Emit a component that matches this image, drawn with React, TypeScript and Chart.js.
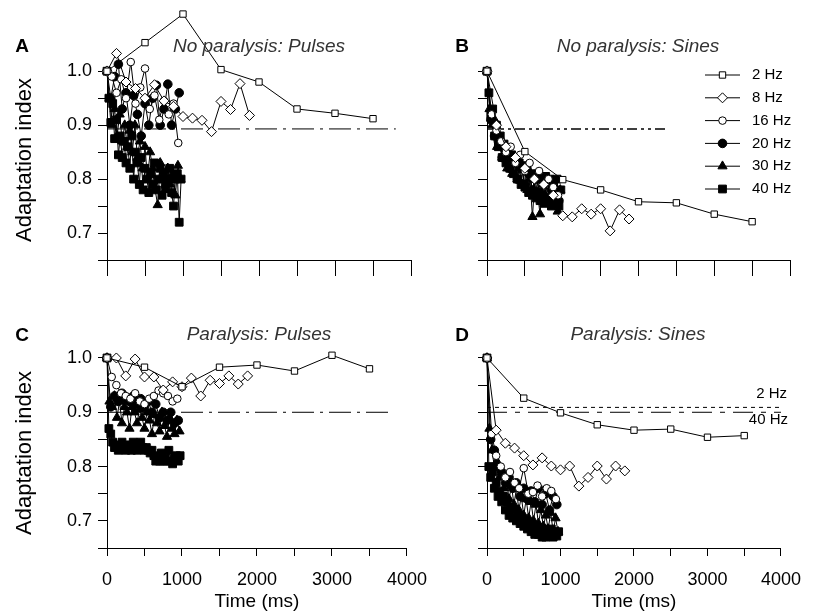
import React, { useEffect, useRef } from 'react';
import { Chart, registerables } from 'chart.js';

Chart.register(...registerables);

const FONT = '"Liberation Sans", Arial, Helvetica, sans-serif';

// ---- stimulus times (ms) ----
const T2 = [0, 500, 1000, 1500, 2000, 2500, 3000, 3500];
const T8 = [0, 125, 250, 375, 500, 625, 750, 875, 1000, 1125, 1250, 1375, 1500, 1625, 1750, 1875];
const T16 = [0, 62.5, 125, 187.5, 250, 312.5, 375, 437.5, 500, 562.5, 625, 687.5, 750, 812.5, 875, 937.5];
const T20 = [0, 50, 100, 150, 200, 250, 300, 350, 400, 450, 500, 550, 600, 650, 700, 750, 800, 850, 900, 950];
const T30 = [0, 33, 67, 100, 133, 167, 200, 233, 267, 300, 333, 367, 400, 433, 467, 500, 533, 567, 600, 633, 667, 700, 733, 767, 800, 833, 867, 900, 933, 967];
const T40 = [0, 25, 50, 75, 100, 125, 150, 175, 200, 225, 250, 275, 300, 325, 350, 375, 400, 425, 450, 475, 500, 525, 550, 575, 600, 625, 650, 675, 700, 725, 750, 775, 800, 825, 850, 875, 900, 925, 950, 975];

const FREQ_LABELS = ['2 Hz', '8 Hz', '16 Hz', '20 Hz', '30 Hz', '40 Hz'];

// ---- A: No paralysis, pulses ----
const A2 = [1.0, 1.053, 1.106, 1.003, 0.98, 0.93, 0.922, 0.912];
const A8 = [1.0, 1.033, 0.98, 0.968, 0.95, 0.975, 0.945, 0.935, 0.916, 0.913, 0.909, 0.888, 0.944, 0.929, 0.977, 0.918];
const A16 = [1.0, 0.99, 0.96, 0.985, 0.95, 1.017, 0.94, 0.97, 1.005, 0.93, 0.955, 0.91, 0.945, 0.92, 0.94, 0.867];
const A20 = [1.0, 0.95, 0.99, 1.013, 0.93, 0.96, 0.9, 0.955, 0.92, 0.88, 0.94, 0.9, 0.95, 0.974, 0.9, 0.93, 0.976, 0.9, 0.93, 0.96];
const A30 = [1.0, 0.95, 0.9, 0.93, 0.88, 0.92, 0.87, 0.9, 0.86, 0.89, 0.85, 0.9, 0.84, 0.87, 0.82, 0.86, 0.8, 0.85, 0.82, 0.78, 0.752, 0.83, 0.8, 0.78, 0.82, 0.79, 0.81, 0.77, 0.825, 0.8];
const A40 = [1.0, 0.95, 0.905, 0.94, 0.875, 0.91, 0.845, 0.88, 0.84, 0.87, 0.83, 0.86, 0.82, 0.88, 0.8, 0.85, 0.83, 0.79, 0.84, 0.78, 0.82, 0.8, 0.775, 0.81, 0.79, 0.83, 0.78, 0.8, 0.82, 0.77, 0.81, 0.79, 0.8, 0.82, 0.775, 0.75, 0.8, 0.81, 0.72, 0.8];
const A_REF = 0.893;
const A_REF_T = [0, 3800];

// ---- B: No paralysis, sines ----
const B2 = [1.0, 0.851, 0.799, 0.78, 0.758, 0.756, 0.735, 0.721];
const B8 = [1.0, 0.9, 0.86, 0.84, 0.82, 0.8, 0.79, 0.77, 0.732, 0.73, 0.745, 0.735, 0.745, 0.704, 0.743, 0.726];
const B16 = [1.0, 0.92, 0.89, 0.87, 0.85, 0.86, 0.83, 0.845, 0.815, 0.83, 0.8, 0.815, 0.79, 0.8, 0.785, 0.77];
const B20 = [1.0, 0.91, 0.88, 0.87, 0.84, 0.85, 0.82, 0.835, 0.8, 0.82, 0.79, 0.81, 0.78, 0.8, 0.775, 0.79, 0.765, 0.78, 0.775, 0.76];
const B30 = [1.0, 0.93, 0.9, 0.91, 0.86, 0.88, 0.84, 0.86, 0.82, 0.845, 0.81, 0.835, 0.8, 0.825, 0.79, 0.82, 0.78, 0.8, 0.73, 0.8, 0.775, 0.735, 0.79, 0.77, 0.8, 0.76, 0.79, 0.765, 0.74, 0.78];
const B40 = [1.0, 0.96, 0.92, 0.93, 0.88, 0.9, 0.86, 0.88, 0.84, 0.865, 0.83, 0.855, 0.82, 0.845, 0.81, 0.84, 0.8, 0.83, 0.79, 0.825, 0.785, 0.82, 0.775, 0.81, 0.77, 0.805, 0.765, 0.81, 0.76, 0.8, 0.755, 0.805, 0.76, 0.8, 0.75, 0.795, 0.755, 0.8, 0.75, 0.78];
const B_REF = 0.893;
const B_REF_T = [0, 2350];

// ---- C: Paralysis, pulses ----
const C2 = [1.0, 0.983, 0.947, 0.983, 0.987, 0.976, 1.005, 0.98];
const C8 = [1.0, 1.0, 0.967, 0.998, 0.965, 0.965, 0.941, 0.956, 0.947, 0.963, 0.93, 0.959, 0.953, 0.967, 0.952, 0.967];
const C16 = [1.0, 0.965, 0.95, 0.935, 0.93, 0.925, 0.935, 0.92, 0.915, 0.925, 0.93, 0.94, 0.935, 0.93, 0.92, 0.925];
const C20 = [1.0, 0.91, 0.93, 0.92, 0.935, 0.925, 0.92, 0.93, 0.915, 0.925, 0.91, 0.92, 0.9, 0.915, 0.89, 0.9, 0.885, 0.9, 0.88, 0.885];
const C30 = [1.0, 0.92, 0.91, 0.93, 0.89, 0.92, 0.88, 0.91, 0.9, 0.87, 0.91, 0.9, 0.88, 0.905, 0.89, 0.87, 0.9, 0.885, 0.86, 0.895, 0.88, 0.865, 0.9, 0.875, 0.855, 0.89, 0.87, 0.86, 0.885, 0.865];
const C40 = [1.0, 0.87, 0.86, 0.845, 0.835, 0.84, 0.83, 0.835, 0.845, 0.835, 0.83, 0.84, 0.835, 0.83, 0.845, 0.835, 0.83, 0.84, 0.845, 0.835, 0.83, 0.835, 0.83, 0.825, 0.83, 0.82, 0.81, 0.815, 0.81, 0.825, 0.81, 0.815, 0.81, 0.83, 0.81, 0.805, 0.815, 0.82, 0.81, 0.82];
const C_REF = 0.9;
const C_REF_T = [0, 3800];

// ---- D: Paralysis, sines ----
const D2 = [1.0, 0.926, 0.899, 0.877, 0.867, 0.869, 0.854, 0.857];
const D8 = [1.0, 0.867, 0.843, 0.834, 0.82, 0.803, 0.816, 0.801, 0.794, 0.801, 0.764, 0.78, 0.801, 0.777, 0.801, 0.792];
const D16 = [1.0, 0.86, 0.82, 0.8, 0.78, 0.79, 0.77, 0.76, 0.797, 0.75, 0.753, 0.765, 0.745, 0.76, 0.755, 0.74];
const D20 = [1.0, 0.85, 0.83, 0.8, 0.79, 0.77, 0.78, 0.76, 0.77, 0.745, 0.76, 0.74, 0.755, 0.735, 0.76, 0.73, 0.75, 0.72, 0.745, 0.73];
const D30 = [1.0, 0.87, 0.83, 0.8, 0.81, 0.78, 0.79, 0.76, 0.775, 0.74, 0.765, 0.73, 0.76, 0.72, 0.745, 0.71, 0.74, 0.705, 0.735, 0.7, 0.73, 0.695, 0.72, 0.69, 0.71, 0.685, 0.715, 0.68, 0.705, 0.68];
const D40 = [1.0, 0.8, 0.78, 0.79, 0.76, 0.77, 0.745, 0.755, 0.735, 0.745, 0.72, 0.735, 0.71, 0.725, 0.705, 0.72, 0.7, 0.71, 0.695, 0.705, 0.69, 0.7, 0.685, 0.695, 0.68, 0.69, 0.675, 0.69, 0.675, 0.685, 0.67, 0.685, 0.67, 0.68, 0.672, 0.685, 0.67, 0.68, 0.672, 0.68];
const D_REF_2HZ = 0.909;
const D_REF_40HZ = 0.9;
const D_REF_T = [0, 4000];

// ---- marker styles per frequency ----
const MARKERS = [
  { style: 'rect', r: 4.5, fill: '#fff' },
  { style: 'rectRot', r: 5, fill: '#fff' },
  { style: 'circle', r: 3.8, fill: '#fff' },
  { style: 'circle', r: 4.3, fill: '#000' },
  { style: 'triangle', r: 5.3, fill: '#000' },
  { style: 'rect', r: 5.5, fill: '#000' },
];

const TIMES = [T2, T8, T16, T20, T30, T40];

function pts(times: number[], vals: number[]) {
  return times.map((t, i) => ({ x: t, y: vals[i] }));
}

function seriesDatasets(values: number[][]) {
  return values.map((vals, i) => ({
    label: FREQ_LABELS[i],
    data: pts(TIMES[i], vals),
    borderColor: '#000',
    borderWidth: 1,
    pointStyle: MARKERS[i].style,
    pointRadius: MARKERS[i].r,
    pointBackgroundColor: MARKERS[i].fill,
    pointBorderColor: '#000',
    pointBorderWidth: 1,
    tension: 0,
    fill: false,
    clip: false,
  }));
}

function refDataset(level: number, range: number[], dash: number[], width = 1) {
  return {
    label: 'ref',
    data: range.map((t) => ({ x: t, y: level })),
    borderColor: '#000',
    borderWidth: width,
    borderDash: dash,
    pointRadius: 0,
    tension: 0,
    fill: false,
    clip: false,
  };
}

function drawMarker(ctx: CanvasRenderingContext2D, m: any, x: number, y: number) {
  ctx.beginPath();
  if (m.style === 'rect') {
    const s = m.r * Math.SQRT1_2;
    ctx.rect(x - s, y - s, 2 * s, 2 * s);
  } else if (m.style === 'rectRot') {
    ctx.moveTo(x, y - m.r);
    ctx.lineTo(x + m.r, y);
    ctx.lineTo(x, y + m.r);
    ctx.lineTo(x - m.r, y);
    ctx.closePath();
  } else if (m.style === 'circle') {
    ctx.arc(x, y, m.r, 0, Math.PI * 2);
  } else if (m.style === 'triangle') {
    let a = 0;
    ctx.moveTo(x + Math.sin(a) * m.r, y - Math.cos(a) * m.r);
    a += (2 * Math.PI) / 3;
    ctx.lineTo(x + Math.sin(a) * m.r, y - Math.cos(a) * m.r);
    a += (2 * Math.PI) / 3;
    ctx.lineTo(x + Math.sin(a) * m.r, y - Math.cos(a) * m.r);
    ctx.closePath();
  }
  ctx.fillStyle = m.fill;
  ctx.fill();
  ctx.strokeStyle = '#000';
  ctx.lineWidth = 1;
  ctx.stroke();
}

const legendPlugin = {
  id: 'freqLegend',
  afterDatasetsDraw(chart: any) {
    const ctx = chart.ctx as CanvasRenderingContext2D;
    ctx.save();
    FREQ_LABELS.forEach((lab, i) => {
      const y = 75 + i * 22.8;
      ctx.strokeStyle = '#000';
      ctx.lineWidth = 1;
      ctx.beginPath();
      ctx.moveTo(265, y);
      ctx.lineTo(300, y);
      ctx.stroke();
      drawMarker(ctx, MARKERS[i], 282.5, y);
      ctx.fillStyle = '#000';
      ctx.font = `15px ${FONT}`;
      ctx.textBaseline = 'middle';
      ctx.textAlign = 'left';
      ctx.fillText(lab, 312, y);
    });
    ctx.restore();
  },
};

// y axis line drawn from 1.0 down to the x axis (data may rise above it)
const AXIS_TOP = 1.0;
const yAxisLinePlugin = {
  id: 'yAxisLine',
  beforeDatasetsDraw(chart: any) {
    const ctx = chart.ctx as CanvasRenderingContext2D;
    const xs = chart.scales.x;
    const ys = chart.scales.y;
    const x = Math.round(xs.getPixelForValue(0) - 0.5) + 0.5;
    ctx.save();
    ctx.strokeStyle = '#000';
    ctx.lineWidth = 1;
    ctx.beginPath();
    ctx.moveTo(x, ys.getPixelForValue(AXIS_TOP));
    ctx.lineTo(x, chart.chartArea.bottom);
    ctx.stroke();
    ctx.restore();
  },
};

type PanelProps = {
  left: number;
  top: number;
  width: number;
  height: number;
  padding: { left: number; right: number; top: number; bottom: number };
  yWidth: number;
  xHeight: number;
  yMax: number;
  showY: boolean;
  showX: boolean;
  xTickLen: number;
  datasets: any[];
  plugins?: any[];
};

function Panel(p: PanelProps) {
  const ref = useRef<HTMLCanvasElement | null>(null);
  useEffect(() => {
    if (!ref.current) return;
    const chart = new Chart(ref.current, {
      type: 'line',
      data: { datasets: p.datasets },
      options: {
        animation: false,
        responsive: false,
        maintainAspectRatio: false,
        events: [],
        layout: { padding: p.padding },
        plugins: { legend: { display: false }, tooltip: { enabled: false } },
        scales: {
          x: {
            type: 'linear',
            min: 0,
            max: 4000,
            afterFit: (s: any) => {
              s.height = p.xHeight;
            },
            ticks: {
              stepSize: 500,
              autoSkip: false,
              maxRotation: 0,
              display: p.showX,
              padding: 13,
              color: '#000',
              font: { family: FONT, size: 18 },
              callback: (v: any) => (Number(v) % 1000 === 0 ? String(v) : ''),
            },
            grid: { drawOnChartArea: false, color: '#000', tickColor: '#000', tickLength: p.xTickLen, lineWidth: 1 },
            border: { color: '#000', width: 1 },
            title: {
              display: p.showX,
              text: 'Time (ms)',
              color: '#000',
              font: { family: FONT, size: 19 },
              padding: { top: 0, bottom: 0 },
            },
          },
          y: {
            type: 'linear',
            min: 0.65,
            max: p.yMax,
            afterFit: (s: any) => {
              s.width = p.yWidth;
              s.paddingTop = 0;
              s.paddingBottom = 0;
            },
            afterBuildTicks: (s: any) => {
              s.ticks = s.ticks.filter((t: any) => t.value <= AXIS_TOP + 1e-9);
            },
            ticks: {
              stepSize: 0.05,
              autoSkip: false,
              display: p.showY,
              padding: 6,
              color: '#000',
              font: { family: FONT, size: 18 },
              callback: (v: any) => {
                const r = Math.round(Number(v) * 100);
                return r % 10 === 0 ? (r / 100).toFixed(1) : '';
              },
            },
            grid: { drawOnChartArea: false, color: '#000', tickColor: '#000', tickLength: 9, lineWidth: 1 },
            border: { display: false },
            title: { display: false },
          },
        },
      } as any,
      plugins: [yAxisLinePlugin, ...(p.plugins || [])],
    });
    return () => chart.destroy();
  }, []);
  return (
    <canvas
      ref={ref}
      width={p.width}
      height={p.height}
      style={{ position: 'absolute', left: p.left, top: p.top, width: p.width, height: p.height }}
    />
  );
}

const DASH_PULSE = [22, 6, 3, 6];
const DASH_B = [10, 4, 3, 4, 3, 4];
const DASH_DOT = [4, 4];
const DASH_D40 = [20, 8, 5, 8];

function Label(props: { x: number; y: number; text: string; style?: any; anchor?: 'center' | 'right'; rotate?: boolean }) {
  const tx = props.anchor === 'right' ? '-100%' : '-50%';
  return (
    <div
      style={{
        position: 'absolute',
        left: props.x,
        top: props.y,
        transform: `translate(${tx}, -50%)${props.rotate ? ' rotate(-90deg)' : ''}`,
        fontFamily: FONT,
        lineHeight: 1,
        whiteSpace: 'nowrap',
        color: '#000',
        ...props.style,
      }}
    >
      {props.text}
    </div>
  );
}

export default function App() {
  const letterStyle = { fontWeight: 'bold', fontSize: 19 };
  const titleStyle = { fontStyle: 'italic', fontSize: 19, color: '#333' };
  const yTitleStyle = { fontSize: 22 };
  return (
    <div style={{ position: 'absolute', left: 0, top: 0, width: 814, height: 613, background: '#fff', overflow: 'hidden' }}>
      <Panel
        left={0}
        top={0}
        width={440}
        height={300}
        padding={{ left: 0, right: 29, top: 6.2, bottom: 0 }}
        yWidth={107}
        xHeight={40}
        yMax={1.12}
        showY={true}
        showX={false}
        xTickLen={16}
        datasets={[...seriesDatasets([A2, A8, A16, A20, A30, A40]), refDataset(A_REF, A_REF_T, DASH_PULSE)]}
      />
      <Panel
        left={440}
        top={0}
        width={374}
        height={300}
        padding={{ left: 0, right: 24, top: 6.2, bottom: 0 }}
        yWidth={47}
        xHeight={40}
        yMax={1.12}
        showY={false}
        showX={false}
        xTickLen={16}
        datasets={[...seriesDatasets([B2, B8, B16, B20, B30, B40]), refDataset(B_REF, B_REF_T, DASH_B, 1.5)]}
        plugins={[legendPlugin]}
      />
      <Panel
        left={0}
        top={300}
        width={440}
        height={313}
        padding={{ left: 0, right: 29, top: 25.4, bottom: 0 }}
        yWidth={107}
        xHeight={65}
        yMax={1.06}
        showY={true}
        showX={true}
        xTickLen={8}
        datasets={[...seriesDatasets([C2, C8, C16, C20, C30, C40]), refDataset(C_REF, C_REF_T, DASH_PULSE)]}
      />
      <Panel
        left={440}
        top={300}
        width={374}
        height={313}
        padding={{ left: 0, right: 24, top: 25.4, bottom: 0 }}
        yWidth={47}
        xHeight={65}
        yMax={1.06}
        showY={false}
        showX={true}
        xTickLen={8}
        datasets={[
          ...seriesDatasets([D2, D8, D16, D20, D30, D40]),
          refDataset(D_REF_2HZ, D_REF_T, DASH_DOT),
          refDataset(D_REF_40HZ, D_REF_T, DASH_D40),
        ]}
      />
      <Label x={24} y={160} text="Adaptation index" style={yTitleStyle} rotate />
      <Label x={24} y={453} text="Adaptation index" style={yTitleStyle} rotate />
      <Label x={22} y={45} text="A" style={letterStyle} />
      <Label x={259} y={45} text="No paralysis: Pulses" style={titleStyle} />
      <Label x={462} y={45} text="B" style={letterStyle} />
      <Label x={638} y={45} text="No paralysis: Sines" style={titleStyle} />
      <Label x={22} y={334} text="C" style={letterStyle} />
      <Label x={259} y={333} text="Paralysis: Pulses" style={titleStyle} />
      <Label x={462} y={334} text="D" style={letterStyle} />
      <Label x={638} y={333} text="Paralysis: Sines" style={titleStyle} />
      <Label x={787} y={392} text="2 Hz" anchor="right" style={{ fontSize: 15 }} />
      <Label x={788} y={418} text="40 Hz" anchor="right" style={{ fontSize: 15 }} />
    </div>
  );
}
